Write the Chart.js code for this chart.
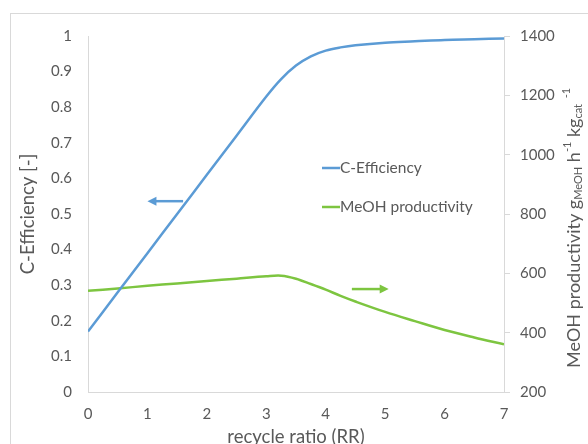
<!DOCTYPE html>
<html>
<head>
<meta charset="utf-8">
<script src="https://cdn.jsdelivr.net/npm/chart.js@4"></script>
<style>
	html, body { margin: 0; padding: 0; background: #ffffff; overflow: hidden; }
	#wrap { position: relative; width: 588px; height: 444px; }
</style>
</head>
<body>
<div id="wrap"><canvas id="rr_chart"></canvas></div>
<script>
// recycle ratio (x)
const rr = [0, 0.5, 1, 1.5, 2, 2.5, 3, 3.25, 3.5, 3.75, 4, 4.25, 4.5, 5, 5.5, 6, 6.5, 7];
// C-Efficiency [-] (left axis)
const cEff = [0.17, 0.28, 0.39, 0.50, 0.61, 0.72, 0.83, 0.879, 0.917, 0.943, 0.959, 0.968, 0.974, 0.981, 0.985, 0.989, 0.991, 0.993];
// MeOH productivity (right axis)
const meohProd = [541, 549, 558, 566, 574, 582, 590, 592, 582, 564, 545, 524, 505, 470, 439, 409, 384, 361];

const xTicks = [0, 1, 2, 3, 4, 5, 6, 7];
const leftTicks = [0, 0.1, 0.2, 0.3, 0.4, 0.5, 0.6, 0.7, 0.8, 0.9, 1];
const rightTicks = [200, 400, 600, 800, 1000, 1200, 1400];

// arrows: [x from, x to, y, axis]
const blueArrow = [1.6, 1.0, 0.536, 'y'];
const greenArrow = [4.44, 5.06, 547, 'y1'];

const BLUE = '#5b9bd5';
const GREEN = '#7dc540';
const TXT = '#595959';
const AXIS = '#d9d9d9';
const FONT = 'Lato, "Open Sans", sans-serif';

const toPts = (xs, ys) => xs.map((x, i) => ({ x: x, y: ys[i] }));

// frame, legend, arrows and rich right title
const extras = {
	id: 'extras',
	beforeDraw(chart) {
		const c = chart.ctx;
		c.save();
		c.strokeStyle = AXIS;
		c.lineWidth = 1;
		c.strokeRect(10.5, 13.5, 700, 600);
		c.restore();
	},
	afterDraw(chart) {
		const c = chart.ctx;
		const sx = chart.scales.x;

		// arrows
		[[blueArrow, BLUE], [greenArrow, GREEN]].forEach(([a, col]) => {
			const x0 = sx.getPixelForValue(a[0]);
			const x1 = sx.getPixelForValue(a[1]);
			const y = chart.scales[a[3]].getPixelForValue(a[2]);
			const dir = Math.sign(x1 - x0);
			c.save();
			c.strokeStyle = col;
			c.fillStyle = col;
			c.lineWidth = 2.5;
			c.beginPath();
			c.moveTo(x0, y);
			c.lineTo(x1 - dir * 7, y);
			c.stroke();
			c.beginPath();
			c.moveTo(x1, y);
			c.lineTo(x1 - dir * 9, y - 4.5);
			c.lineTo(x1 - dir * 9, y + 4.5);
			c.closePath();
			c.fill();
			c.restore();
		});

		// legend inside plot
		const lx = 322, ly = [168, 207];
		chart.data.datasets.forEach((ds, i) => {
			c.save();
			c.strokeStyle = ds.borderColor;
			c.lineWidth = 2.5;
			c.beginPath();
			c.moveTo(lx, ly[i]);
			c.lineTo(lx + 18, ly[i]);
			c.stroke();
			c.fillStyle = TXT;
			c.font = '15.5px ' + FONT;
			c.textBaseline = 'middle';
			c.fillText(ds.label, lx + 18, ly[i]);
			c.restore();
		});

		// right axis title with sub/superscripts
		const parts = [
			['MeOH productivity ', 0, 18],
			['g', 0, 18],
			['MeOH', 4.5, 11],
			[' h', 0, 18],
			['-1', -7, 11],
			[' kg', 0, 18],
			['cat', 4.5, 11],
			['  ', 0, 11],
			['-1', -8, 11],
		];
		c.save();
		c.translate(574, 368);
		c.rotate(-Math.PI / 2);
		c.fillStyle = TXT;
		c.textBaseline = 'middle';
		let px = 0;
		parts.forEach(([t, dy, fs]) => {
			c.font = fs + 'px ' + FONT;
			c.fillText(t, px, dy);
			px += c.measureText(t).width;
		});
		c.restore();
	}
};

const data = {
	datasets: [{
		label: 'C-Efficiency',
		data: toPts(rr, cEff),
		borderColor: BLUE,
		backgroundColor: BLUE,
		borderWidth: 2.5,
		pointRadius: 0,
		tension: 0.35,
		yAxisID: 'y'
	}, {
		label: 'MeOH productivity',
		data: toPts(rr, meohProd),
		borderColor: GREEN,
		backgroundColor: GREEN,
		borderWidth: 2.5,
		pointRadius: 0,
		tension: 0.35,
		yAxisID: 'y1'
	}]
};

const config = {
	type: 'line',
	data: data,
	plugins: [extras],
	options: {
		responsive: true,
		maintainAspectRatio: false,
		animation: false,
		layout: { padding: { top: 36, left: 0, right: 0, bottom: 0 } },
		plugins: {
			legend: { display: false },
			tooltip: { enabled: false }
		},
		scales: {
			x: {
				type: 'linear',
				min: 0,
				max: 7,
				afterBuildTicks: (s) => { s.ticks = xTicks.map(v => ({ value: v })); },
				ticks: { color: TXT, font: { family: FONT, size: 15 }, padding: 5 },
				grid: { display: false, drawTicks: true, tickLength: 8 },
				border: { display: true, color: AXIS },
				title: {
					display: true,
					text: 'recycle ratio (RR)',
					color: TXT,
					font: { family: FONT, size: 18.5 },
					padding: { top: 0, bottom: -4 }
				},
				afterFit: (s) => { s.height = 52; }
			},
			y: {
				position: 'left',
				min: 0,
				max: 1,
				afterBuildTicks: (s) => { s.ticks = leftTicks.map(v => ({ value: v })); },
				ticks: {
					color: TXT,
					font: { family: FONT, size: 15 },
					padding: 16,
					callback: (v) => String(+v.toFixed(1))
				},
				grid: { display: false, drawTicks: false },
				border: { display: true, color: AXIS },
				title: {
					display: true,
					text: 'C-Efficiency [-]',
					color: TXT,
					font: { family: FONT, size: 18.5 },
					padding: { top: 17, bottom: 0 }
				},
				afterFit: (s) => { s.width = 88; }
			},
			y1: {
				position: 'right',
				min: 200,
				max: 1400,
				afterBuildTicks: (s) => { s.ticks = rightTicks.map(v => ({ value: v })); },
				ticks: {
					color: TXT,
					font: { family: FONT, size: 15 },
					padding: 10,
					callback: (v) => String(v)
				},
				grid: { display: true, drawOnChartArea: false, drawTicks: true, tickLength: 6, color: AXIS },
				border: { display: true, color: AXIS },
				afterFit: (s) => { s.width = 84; }
			}
		}
	}
};

var ctx = document.getElementById('rr_chart');
if (ctx != null) {
	ctx.parentNode.style.height = '444px';
	ctx.parentNode.style.width = '588px';
	const chart = new Chart(ctx, config);
}
</script>
</body>
</html>
